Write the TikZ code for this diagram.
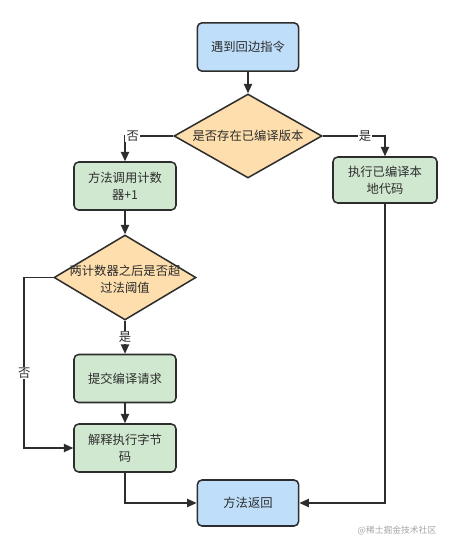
\documentclass[tikz,border=0pt]{standalone}
\usepackage{fontspec}
\setmainfont{Noto Sans CJK SC}
\usetikzlibrary{arrows.meta,shapes.geometric}
\definecolor{ink}{RGB}{45,45,45}
\definecolor{termb}{RGB}{190,222,250}
\definecolor{actb}{RGB}{208,232,208}
\definecolor{askb}{RGB}{253,222,172}
\definecolor{wmk}{RGB}{165,165,165}

\begin{document}
\begin{tikzpicture}[
  x=0.03cm, y=-0.03cm,
  font=\fontsize{10.5}{14.5}\selectfont, ink,
  every node/.style={inner sep=2pt},
  term/.style={rounded corners=4pt, draw=ink, fill=termb, line width=1.3pt,
               minimum width=3.04cm, minimum height=1.45cm, align=center},
  act/.style={rounded corners=4pt, draw=ink, fill=actb, line width=1.3pt,
              minimum width=3.06cm, minimum height=1.44cm, align=center,
              text width=2.7cm},
  ask/.style={diamond, draw=ink, fill=askb, line width=1.3pt, inner sep=0pt},
  flow/.style={-{Triangle[length=8pt,width=7pt]}, line width=1.3pt, ink},
  tag/.style={fill=white, inner sep=1pt},
]
\useasboundingbox (0,0) rectangle (461,551);

%% ---- start and first check ----
\node[term] (start) at (248,47) {遇到回边指令};
\node[ask, minimum width=4.44cm, minimum height=2.52cm] (ask1) at (248,136) {};
\node (ask1t) at (248,136) {是否存在已编译版本};

%% ---- left branch: count and threshold ----
\node[act] (cnt) at (125,186) {方法调用计数\\器+1};
\node[ask, minimum width=4.26cm, minimum height=2.55cm] (ask2) at (125,277.5) {};
\node[align=center] (ask2t) at (125,279) {两计数器之后是否超\\过法阈值};
\node[act] (submit) at (125,378.5) {提交编译请求};
\node[act] (interp) at (125,448) {解释执行字节\\码};

%% ---- right branch ----
\node[act, minimum width=3.12cm, minimum height=1.38cm] (native) at (385,180)
  {执行已编译本\\地代码};

%% ---- end ----
\node[term, minimum height=1.38cm] (ret) at (248,503) {方法返回};

\node[font=\fontsize{7.5}{9}\selectfont, text=wmk] (wm) at (397,531)
  {@稀土掘金技术社区};

%% connectors
\draw[flow] (start) -- (ask1);
\draw[flow] (ask1.west) -| (cnt.north) node[tag, pos=0.42] (no1) {否};
\draw[flow] (ask1.east) -| (native.north) node[tag, pos=0.34] (yes1) {是};
\draw[flow] (cnt) -- (ask2);
\draw[flow] (ask2) -- (submit) node[tag, pos=0.5] (yes2) {是};
\draw[flow] (ask2.west) -- ++(-29,0) |- (interp.west) node[tag, pos=0.28] (no2) {否};
\draw[flow] (submit) -- (interp);
\draw[flow] (interp.south) |- (ret.west);
\draw[flow] (native.south) |- (ret.east);

\end{tikzpicture}
\end{document}
